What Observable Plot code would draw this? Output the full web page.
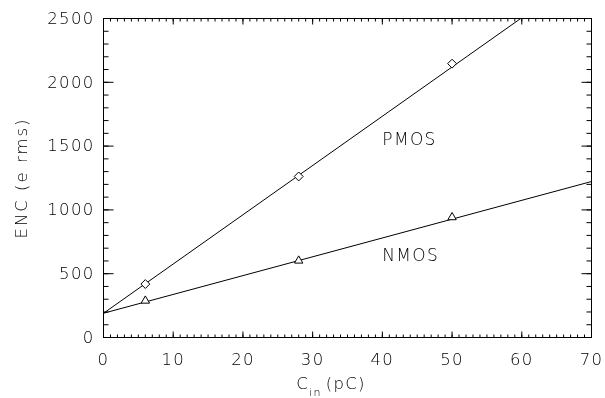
<!DOCTYPE html>
<html><head><meta charset="utf-8">
<script src="https://cdn.jsdelivr.net/npm/d3@7"></script>
<script src="https://cdn.jsdelivr.net/npm/@observablehq/plot@0.6"></script>
<style>
body{margin:0;background:#fff}
#chart{will-change:transform}
#chart svg text{letter-spacing:1.3px;font-weight:200}
</style>
</head><body><div id="chart"></div>
<script>
// Data
const capacitance = [6, 28, 50];          // C_in (pC)
const pmosENC = [419, 1262, 2146];        // e rms
const nmosENC = [288, 602, 942];          // e rms
const pmosFit = {intercept: 190, slope: 38.6};
const nmosFit = {intercept: 190, slope: 14.75};
const xMajor = [0, 10, 20, 30, 40, 50, 60, 70];
const yMajor = [0, 500, 1000, 1500, 2000, 2500];
const xMinor = d3.range(0, 71, 1);
const yMinor = d3.range(0, 2501, 100);
const seriesLabels = [
  {name: "PMOS", x: 40, y: 1552},
  {name: "NMOS", x: 40, y: 641}
];
const xDomain = [0, 70], yDomain = [0, 2500];

const pmosPts = capacitance.map((x, i) => ({x, y: pmosENC[i]}));
const nmosPts = capacitance.map((x, i) => ({x, y: nmosENC[i]}));
const fitLine = f => {
  const xEnd = Math.min(xDomain[1], (yDomain[1] - f.intercept) / f.slope);
  return [xDomain[0], xEnd].map(x => ({x, y: f.intercept + f.slope * x}));
};
const pmosLine = fitLine(pmosFit);
const nmosLine = fitLine(nmosFit);

const W = 605, H = 398, mL = 103, mR = 14, mT = 18, mB = 61;
const innerW = W - mL - mR, innerH = H - mT - mB;
const ux = px => px * (xDomain[1] - xDomain[0]) / innerW;
const uy = px => px * (yDomain[1] - yDomain[0]) / innerH;
const ts = {stroke: "#000", strokeWidth: 1, strokeOpacity: 1};
const xTicks = (vals, y0, len) => Plot.link(vals, {x1: d => d, x2: d => d, y1: y0, y2: y0 + len, ...ts});
const yTicks = (vals, x0, len) => Plot.link(vals, {y1: d => d, y2: d => d, x1: x0, x2: x0 + len, ...ts});

const chart = Plot.plot({
  width: W, height: H,
  marginLeft: mL, marginRight: mR, marginTop: mT, marginBottom: mB,
  style: {fontFamily: "DejaVu Sans", fontSize: "16.5px", color: "#000"},
  x: {domain: xDomain},
  y: {domain: yDomain},
  marks: [
    Plot.axisX({anchor: "bottom", ticks: xMajor, tickSize: 0, tickPadding: 16, tickFormat: d => String(d), label: null}),
    Plot.axisY({anchor: "left", ticks: yMajor, tickSize: 0, tickPadding: 9, tickFormat: d => String(d), label: null}),
    Plot.line(pmosLine, {x: "x", y: "y", stroke: "#000", strokeWidth: 1}),
    Plot.line(nmosLine, {x: "x", y: "y", stroke: "#000", strokeWidth: 1}),
    Plot.dot(pmosPts, {x: "x", y: "y", symbol: "diamond2", r: 4, fill: "#fff", stroke: "#000", strokeWidth: 1}),
    Plot.dot(nmosPts, {x: "x", y: "y", symbol: "triangle2", r: 4, fill: "#fff", stroke: "#000", strokeWidth: 1}),
    Plot.text(seriesLabels, {x: "x", y: "y", text: "name", textAnchor: "start", fontSize: 17, fill: "#000"}),
    Plot.frame({stroke: "#000", strokeWidth: 1, fill: "none"}),
    // inward tick marks on all four sides, drawn last
    xTicks(xMinor, yDomain[0], uy(3)),
    xTicks(xMajor, yDomain[0], uy(6)),
    xTicks(xMinor, yDomain[1], -uy(3)),
    xTicks(xMajor, yDomain[1], -uy(6)),
    yTicks(yMinor, xDomain[0], ux(5)),
    yTicks(yMajor, xDomain[0], ux(10)),
    yTicks(yMinor, xDomain[1], -ux(5)),
    yTicks(yMajor, xDomain[1], -ux(10))
  ]
});

const svg = d3.select(chart);
svg.append("text")
  .attr("transform", "translate(27,178) rotate(-90)")
  .attr("text-anchor", "middle")
  .attr("fill", "#000")
  .style("font-size", "16.5px")
  .style("letter-spacing", "2px")
  .text("ENC (e rms)");
const xt = svg.append("text")
  .attr("x", 331).attr("y", 389)
  .attr("fill", "#000")
  .style("font-size", "16.5px");
xt.append("tspan").text("C");
xt.append("tspan").attr("dy", 7).style("font-size", "11px").text("in");
xt.append("tspan").attr("dy", -7).attr("dx", 4).text("(pC)");

document.getElementById("chart").appendChild(chart);
</script>
</body></html>
